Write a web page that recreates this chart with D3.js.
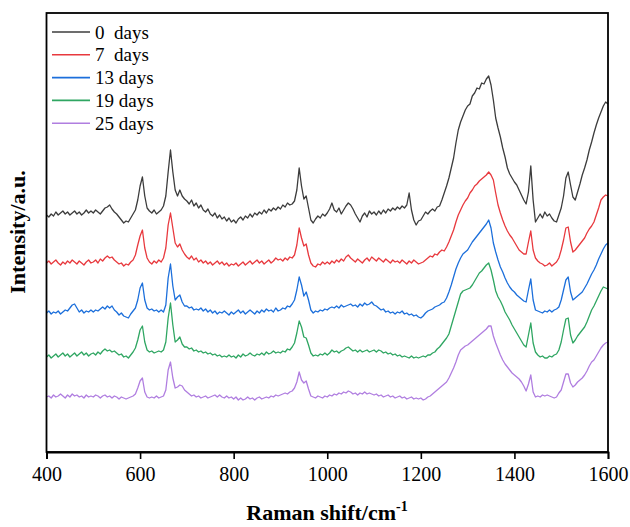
<!DOCTYPE html>
<html>
<head>
<meta charset="utf-8">
<script src="https://cdn.jsdelivr.net/npm/d3@7"></script>
<style>
html,body{margin:0;padding:0;background:#fff;}
text{font-family:"Liberation Serif","Times New Roman",serif;}
</style>
</head>
<body>
<svg id="chart" width="630" height="527"></svg>
<script>
// Raman shift grid (cm-1), 400..1600 every 5
const shift = d3.range(400, 1601, 5);
const xTicks = [400, 600, 800, 1000, 1200, 1400, 1600];
const seriesNames = ["0  days", "7  days", "13 days", "19 days", "25 days"];
const seriesColors = ["#3c3c3c", "#e8393e", "#1c6fdb", "#2fa662", "#b07ee0"];

const days0 = [
285,283,286,284,288,285,287,289,286,288,285,287,289,286,288,285,287,290,287,289,
287,290,288,286,289,292,293,295,291,288,286,283,280,277,279,278,282,286,290,300,
314,323,304,292,289,287,290,286,288,290,294,304,328,350,328,310,304,310,304,301,
299,296,300,294,297,292,295,290,288,291,286,284,287,282,285,281,283,279,282,278,
280,277,281,283,280,284,282,286,283,287,285,288,286,290,287,291,289,292,290,293,
291,295,293,297,295,296,299,310,332,314,301,304,292,280,277,281,284,282,286,284,
287,291,297,290,288,292,286,290,294,297,295,291,286,282,278,284,287,283,289,286,
288,285,289,286,290,287,291,289,292,290,293,291,294,292,295,307,290,280,275,279,
280,284,288,286,289,291,289,293,294,300,307,314,322,332,342,357,370,378,384,390,
394,396,404,407,412,411,417,416,421,424,415,400,382,372,363,352,343,332,326,322,
318,315,310,305,300,296,308,334,300,278,282,286,282,288,284,286,282,279,278,285,
292,304,322,328,315,303,300,308,316,325,332,340,350,358,367,375,382,388,394,398,
396];
const days7 = [
237,239,236,238,240,237,235,238,236,239,237,240,238,236,239,237,235,238,240,237,
238,240,237,241,239,242,244,242,243,240,238,236,237,234,236,235,238,240,245,255,
264,270,252,242,238,236,239,237,240,238,242,252,275,287,272,257,253,256,250,246,
243,241,244,240,242,238,240,237,239,236,238,235,237,239,236,238,235,237,234,236,
235,237,234,236,238,235,237,239,236,238,240,237,239,236,238,240,237,239,242,240,
241,239,242,240,243,242,245,255,272,262,254,256,245,237,234,233,236,235,238,236,
238,236,239,237,240,238,241,239,243,245,242,240,238,241,239,237,240,242,239,243,
241,239,242,240,238,241,239,237,240,238,239,237,240,238,236,239,237,240,238,236,
237,238,240,242,244,243,246,245,248,250,249,253,258,264,270,278,285,290,295,299,
302,307,310,314,316,319,321,323,325,328,325,320,307,295,287,280,274,269,265,262,
258,254,250,248,246,246,258,269,250,242,239,237,236,234,235,237,234,236,238,242,
250,260,272,273,258,248,250,253,256,259,262,267,271,274,278,285,292,300,303,305,
304];
const days13 = [
187,189,186,188,187,189,186,188,190,189,192,195,196,192,188,190,187,189,188,190,
188,190,189,191,193,191,194,192,194,190,188,185,187,184,183,182,186,189,192,200,
212,217,200,192,190,191,189,190,188,190,188,195,222,236,214,200,203,205,198,194,
194,192,193,190,191,190,192,189,191,188,190,187,189,186,188,187,189,187,185,188,
186,188,190,187,189,186,188,190,188,186,189,187,190,188,191,189,190,188,192,189,
190,192,191,194,193,196,200,210,223,215,204,208,200,190,187,189,188,190,189,191,
190,192,193,192,194,192,195,193,194,195,196,194,195,193,196,194,197,195,196,198,
195,194,192,190,191,188,189,187,188,186,188,187,189,186,187,185,186,184,185,183,
182,184,187,189,190,191,193,194,195,197,198,202,208,215,223,231,237,242,246,248,
250,254,258,261,264,267,270,273,276,280,272,257,248,240,233,228,222,217,213,210,
208,205,203,201,199,198,210,221,200,190,189,188,187,189,188,190,188,190,191,193,
200,210,220,223,208,200,202,204,206,208,212,216,221,226,230,235,241,246,251,255,
257];
const days19 = [
143,145,142,144,146,143,145,147,144,146,143,145,147,144,146,148,145,147,144,146,
147,145,148,146,149,151,149,150,148,149,147,145,146,143,144,142,145,148,152,160,
170,174,158,150,148,149,147,148,149,148,150,158,182,197,175,158,160,163,156,153,
153,151,152,149,150,148,149,147,148,146,147,145,146,144,145,143,144,143,145,143,
144,142,145,143,146,144,145,147,145,144,146,145,147,145,148,146,147,149,147,148,
147,149,148,151,150,153,157,167,179,173,163,162,155,147,144,145,144,146,145,147,
145,147,150,148,149,147,149,150,152,153,151,149,150,148,150,148,149,150,148,149,
150,148,150,149,147,148,146,147,145,146,144,145,143,144,143,142,144,142,143,142,
143,144,143,145,145,147,148,151,153,156,159,162,166,174,182,190,198,206,209,210,
211,212,215,219,223,227,229,232,235,237,230,220,209,203,199,194,188,184,180,175,
171,167,163,159,155,153,165,177,157,148,145,143,144,142,142,144,143,145,146,150,
158,170,181,182,165,157,160,164,167,170,173,178,184,190,194,199,204,209,213,212,
211];
const days25 = [
103,104,102,105,103,104,106,104,102,105,103,106,104,105,103,104,102,105,103,104,
103,105,104,102,104,105,103,104,102,104,103,101,103,102,101,102,103,104,106,112,
119,122,108,103,102,103,102,104,102,103,104,110,130,138,122,112,113,115,114,110,
108,106,104,105,103,104,102,103,104,102,103,104,105,103,105,103,102,104,102,103,
101,103,100,102,100,101,103,101,102,100,102,103,101,102,103,102,104,103,105,104,
105,106,107,106,108,109,112,118,128,120,117,119,111,104,103,102,104,103,102,104,
103,105,104,106,105,107,106,108,107,109,108,106,107,105,107,106,108,106,107,106,
105,106,104,105,103,104,105,103,104,102,103,104,102,103,101,102,103,101,102,101,
102,100,101,103,104,106,108,110,112,114,116,118,122,127,132,138,145,150,152,154,
155,157,159,161,163,165,167,169,171,174,174,164,157,151,145,140,136,133,130,127,
125,123,121,118,114,109,116,125,108,103,104,103,105,104,105,104,103,102,103,107,
110,118,126,126,117,113,115,118,120,122,125,129,134,138,140,144,148,152,155,157,
158];

const seriesValues = [days0, days7, days13, days19, days25];

const svg = d3.select("#chart");
const margin = {left: 46.5, right: 608, top: 13, bottom: 452};

const x = d3.scaleLinear().domain([400, 1600]).range([margin.left, margin.right]);
const y = d3.scaleLinear().domain([48, 487]).range([margin.bottom, margin.top]);

// curves
const line = d3.line().x((d, i) => x(shift[i])).y(d => y(d));
seriesValues.forEach((vals, k) => {
  svg.append("path")
    .datum(vals)
    .attr("d", line)
    .attr("fill", "none")
    .attr("stroke", seriesColors[k])
    .attr("stroke-width", 1.3)
    .attr("stroke-linejoin", "round");
});

// frame
svg.append("rect")
  .attr("x", margin.left).attr("y", margin.top)
  .attr("width", margin.right - margin.left)
  .attr("height", margin.bottom - margin.top)
  .attr("fill", "none").attr("stroke", "#000").attr("stroke-width", 1.8);

// x axis
const xAxis = d3.axisBottom(x).tickValues(xTicks).tickSize(7).tickPadding(8).tickFormat(d3.format("d"));
const gx = svg.append("g").attr("transform", `translate(0,${margin.bottom})`).call(xAxis);
gx.select(".domain").attr("stroke", "#000").attr("stroke-width", 1.8);
gx.selectAll(".tick line").attr("stroke", "#000").attr("stroke-width", 1.6);
gx.selectAll(".tick text").attr("font-size", 20).attr("fill", "#000")
  .attr("font-family", "Liberation Serif");

// axis titles
const xt = svg.append("text")
  .attr("x", 327).attr("y", 520)
  .attr("text-anchor", "middle")
  .attr("font-size", 22).attr("font-weight", "bold").attr("fill", "#000");
xt.append("tspan").text("Raman shift/cm");
xt.append("tspan").attr("dy", -9).attr("font-size", 14).text("-1");

svg.append("text")
  .attr("transform", "translate(25,232) rotate(-90)")
  .attr("text-anchor", "middle")
  .attr("font-size", 22).attr("font-weight", "bold").attr("fill", "#000")
  .text("Intensity/a.u.");

// legend
const lg = svg.append("g");
seriesNames.forEach((name, k) => {
  const yy = 32 + k * 22.8;
  lg.append("line").attr("x1", 52).attr("x2", 90).attr("y1", yy).attr("y2", yy)
    .attr("stroke", seriesColors[k]).attr("stroke-width", 1.6);
  lg.append("text").attr("x", 95).attr("y", yy + 6.5)
    .attr("font-size", 19).attr("fill", "#000")
    .style("white-space", "pre")
    .text(name);
});
</script>
</body>
</html>
